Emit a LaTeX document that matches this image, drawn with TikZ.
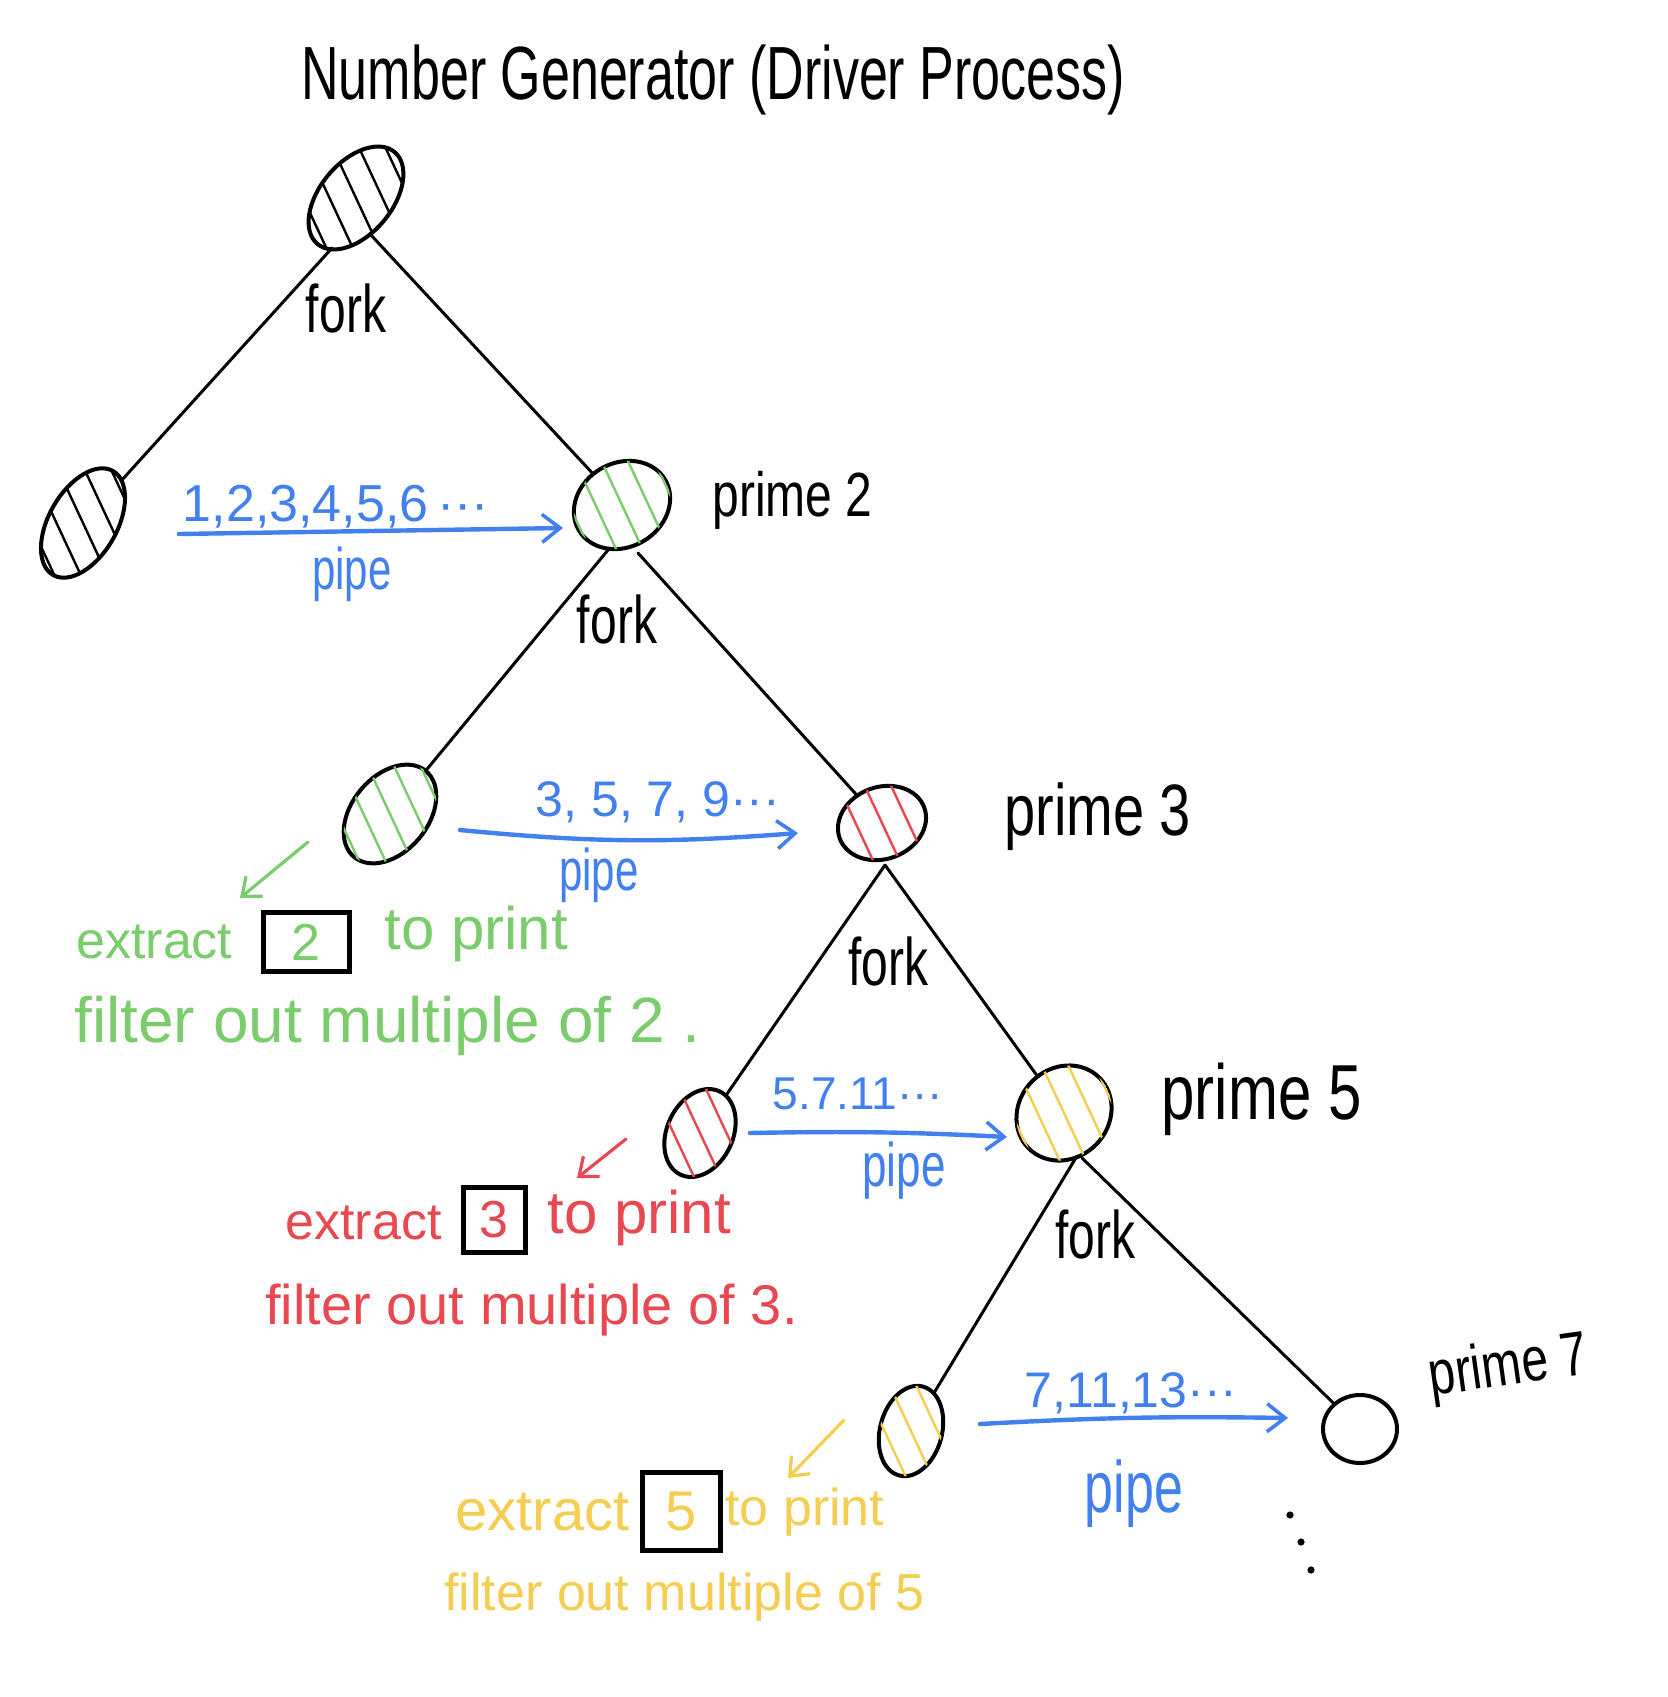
\documentclass[tikz,border=0pt]{standalone}
\usepackage{fontspec}
\setmainfont{Liberation Sans}
\usetikzlibrary{shapes.geometric,arrows.meta,calc}
\definecolor{hgreen}{RGB}{122,204,108}
\definecolor{hred}{RGB}{232,72,80}
\definecolor{hyellow}{RGB}{245,205,80}
\definecolor{hblue}{RGB}{66,128,240}
\newcommand\vs[2]{\scalebox{1}[#1]{#2}}
\newcommand\fs[1]{\fontsize{#1}{#1}\selectfont}
% name, x, y, width(pt), height(pt), rotation, hatch colour
\newcommand\procnode[7]{%
  \node[proc, minimum width=#4pt, minimum height=#5pt, rotate=#6] (#1) at (#2,#3) {};
  \begin{scope}
    \clip[rotate around={#6:(#1)}] (#1) ellipse [x radius=#4pt/2, y radius=#5pt/2];
    \foreach \k in {-3,...,3}
      \draw[#7, hatch] ($(#1)+(25:\k*12pt)+(-65:40pt)$) -- ($(#1)+(25:\k*12pt)+(115:40pt)$);
  \end{scope}}
\begin{document}
\begin{tikzpicture}[x=0.5pt,y=-0.5pt,
  proc/.style={ellipse, draw, line width=2pt, inner sep=0pt, outer sep=0pt},
  hatch/.style={line width=1.2pt, line cap=round},
  edge/.style={line width=1.5pt, line cap=round},
  pipearrow/.style={hblue, line width=2.2pt, line cap=round,
    -{Straight Barb[length=9pt,width=14pt,line width=1.8pt]}},
  notearrow/.style={line width=1.6pt, line cap=round,
    -{Straight Barb[length=8pt,width=13pt,line width=1.6pt]}},
  lbl/.style={inner sep=0pt, anchor=west},
  ctr/.style={inner sep=0pt},
  numbox/.style={draw=black, line width=2.5pt, inner sep=0pt}]
\fill[white] (0,0) rectangle (1668,1697);
\useasboundingbox (0,0) rectangle (1668,1697);

% title
\node[lbl, font=\fs{26}] (title) at (301,80) {\vs{1.45}{Number Generator (Driver Process)}};

% process nodes
\procnode{root}{356}{198}{60}{36}{50}{black}
\procnode{L}{83}{523}{60}{34}{60}{black}
\procnode{P2}{622}{505}{50}{42}{30}{hgreen}
\procnode{GL}{390}{814}{56}{38}{50}{hgreen}
\procnode{P3}{882}{823}{45}{36}{20}{hred}
\procnode{RL}{700}{1133}{46}{33}{65}{hred}
\procnode{P5}{1064}{1113}{50}{45}{45}{hyellow}
\procnode{YL}{911}{1431}{46}{31}{75}{hyellow}
\node[proc, minimum width=37pt, minimum height=34pt] (P7) at (1360,1429) {};

% fork edges
\draw[edge] ($(root)+(-24,50)$) -- (L);
\draw[edge] ($(root)+(14,36)$) -- (P2);
\draw[edge] ($(P2)+(-14,45)$) -- (GL);
\draw[edge] ($(P2)+(16,48)$) -- (P3);
\draw[edge] ($(P3)+(3,42)$) -- (RL);
\draw[edge] ($(P3)+(3,42)$) -- (P5);
\draw[edge] ($(P5)+(13,43)$) -- (YL);
\draw[edge] ($(P5)+(18,45)$) -- (P7);

\node[ctr, font=\fs{24}] (fork1) at (346,308) {\vs{1.4}{fork}};
\node[ctr, font=\fs{24}] (fork2) at (617,619) {\vs{1.4}{fork}};
\node[ctr, font=\fs{24}] (fork3) at (888,961) {\vs{1.4}{fork}};
\node[ctr, font=\fs{24}] (fork4) at (1095,1234) {\vs{1.4}{fork}};

% prime labels
\node[lbl, font=\fs{24}] (lp2) at (712,500) {\vs{1.3}{prime 2}};
\node[lbl, font=\fs{28}] (lp3) at (1004,817) {\vs{1.3}{prime 3}};
\node[lbl, font=\fs{30}] (lp5) at (1161,1099) {\vs{1.3}{prime 5}};
\node[lbl, font=\fs{24}, rotate=8] (lp7) at (1429,1380) {\vs{1.3}{prime 7}};

% pipes
\draw[pipearrow] ($(L)+(96,11)$) -- ($(P2)+(-59,23)$);
\draw[pipearrow] ($(GL)+(70,16)$) to[bend right=5] ($(P3)+(-84,10)$);
\draw[pipearrow] ($(RL)+(50,0)$) to[bend left=2] ($(P5)+(-57,24)$);
\draw[pipearrow] ($(YL)+(69,-7)$) to[bend left=2] ($(P7)+(-72,-11)$);

\node[ctr, hblue, font=\fs{26}] (s1) at (336,507) {1,2,3,4,5,6\,···};
\node[ctr, hblue, font=\fs{21}] (pp1) at (352,574) {\vs{1.4}{pipe}};
\node[ctr, hblue, font=\fs{25}] (s2) at (658,802) {3, 5, 7, 9···};
\node[ctr, hblue, font=\fs{21}] (pp2) at (599,875) {\vs{1.4}{pipe}};
\node[ctr, hblue, font=\fs{23}] (s3) at (858,1094) {5.7.11···};
\node[ctr, hblue, font=\fs{22}] (pp3) at (904,1171) {\vs{1.4}{pipe}};
\node[ctr, hblue, font=\fs{25}] (s4) at (1131,1393) {7,11,13···};
\node[ctr, hblue, font=\fs{26}] (pp4) at (1134,1494) {\vs{1.4}{pipe}};

% green notes
\node[lbl, hgreen, font=\fs{26}] (ex2) at (76,942) {extract};
\node[numbox, minimum width=43pt, minimum height=29.5pt, text=hgreen, font=\fs{26}] (box2) at (306,942) {2};
\node[lbl, hgreen, font=\fs{30}] (tp2) at (384,934) {to print};
\node[lbl, hgreen, font=\fs{32}] (fo2) at (74,1026) {filter out multiple of 2 .};
\draw[notearrow, hgreen] ($(GL)+(-82,28)$) -- ($(GL)+(-150,84)$);

% red notes
\node[lbl, hred, font=\fs{26}] (ex3) at (285,1223) {extract};
\node[numbox, minimum width=31pt, minimum height=32.5pt, text=hred, font=\fs{26}] (box3) at (494,1220) {3};
\node[lbl, hred, font=\fs{30}] (tp3) at (547,1218) {to print};
\node[lbl, hred, font=\fs{28}] (fo3) at (265,1310) {filter out multiple of 3.};
\draw[notearrow, hred] ($(RL)+(-74,6)$) -- ($(RL)+(-123,45)$);

% yellow notes
\node[lbl, hyellow, font=\fs{29}] (ex5) at (455,1512) {extract};
\node[numbox, minimum width=39pt, minimum height=39pt, text=hyellow, font=\fs{28}] (box5) at (681,1511) {5};
\node[lbl, hyellow, font=\fs{26}] (tp5) at (725,1512) {to print};
\node[lbl, hyellow, font=\fs{26}] (fo5) at (444,1597) {filter out multiple of 5};
\draw[notearrow, hyellow] ($(YL)+(-67,-11)$) -- ($(YL)+(-123,47)$);

% continuation dots
\fill (1290,1515) circle (1.8pt);
\fill (1301,1542) circle (1.8pt);
\fill (1311,1570) circle (1.8pt);
\end{tikzpicture}
\end{document}
